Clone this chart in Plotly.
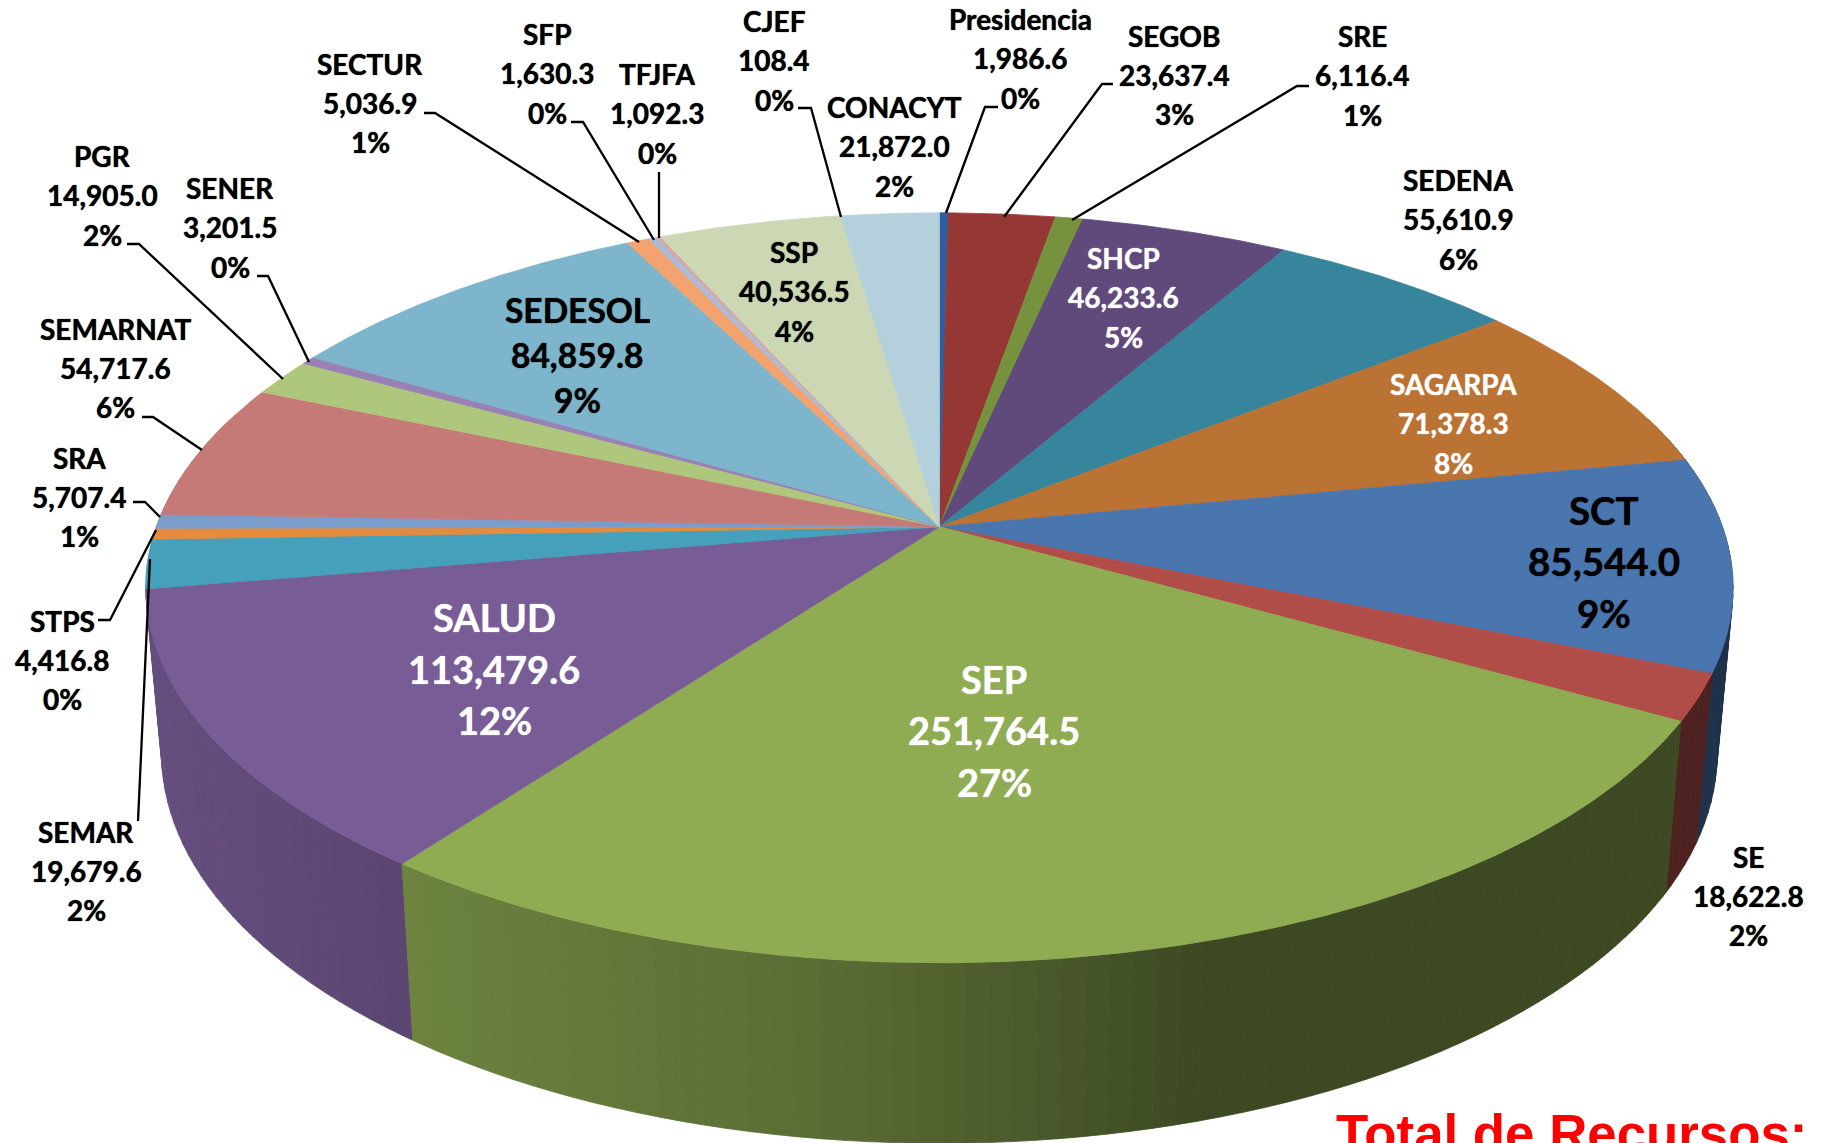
import numpy as np
import plotly.graph_objects as go

# ---- data, clockwise from 12 o'clock ----
names = ["Presidencia", "SEGOB", "SRE", "SHCP", "SEDENA", "SAGARPA", "SCT", "SE", "SEP", "SALUD",
         "SEMAR", "STPS", "SRA", "SEMARNAT", "PGR", "SENER", "SEDESOL", "SECTUR", "SFP", "TFJFA",
         "CJEF", "SSP", "CONACYT"]
values = [1986.6, 23637.4, 6116.4, 46233.6, 55610.9, 71378.3, 85544.0, 18622.8, 251764.5, 113479.6,
          19679.6, 4416.8, 5707.4, 54717.6, 14905.0, 3201.5, 84859.8, 5036.9, 1630.3, 1092.3,
          108.4, 40536.5, 21872.0]
colors = ["#2f5f9d", "#953735", "#76923c", "#604a7b", "#37859c", "#bb7333", "#4a76b0", "#b14d49",
          "#8fac53", "#775c95", "#45a0bb", "#e38b3f", "#7b9dcc", "#c67a78", "#aec77c", "#9980b5",
          "#7cb5cc", "#f2a36f", "#a9bcdb", "#d4a9a8", "#cddaa8", "#ccd8b4", "#b4d0dc"]
total_text = "Total de Recursos:"

# ---- label layout (pixel space): centre x, y of first line, line step, font size, colour ----
SMALL = 28.0
label_layout = {
    "Presidencia": (1020, 18.5, 39.5, SMALL, "black"), "SEGOB": (1174, 35.5, 39, SMALL, "black"),
    "SRE": (1362, 35.5, 39.5, SMALL, "black"), "SHCP": (1123, 257.5, 39.5, SMALL, "white"),
    "SEDENA": (1458, 179.5, 39.5, SMALL, "black"), "SAGARPA": (1453, 383.5, 39.5, SMALL, "white"),
    "SCT": (1604, 509.5, 51.5, 38.5, "black"), "SE": (1748, 856.5, 39, SMALL, "black"),
    "SEP": (994, 678.5, 51.5, 38, "white"), "SALUD": (494, 617, 51.5, 38, "white"),
    "SEMAR": (86, 831.5, 39, SMALL, "black"), "STPS": (62, 620.5, 39, SMALL, "black"),
    "SRA": (79, 457.5, 39, SMALL, "black"), "SEMARNAT": (115, 328.5, 39, SMALL, "black"),
    "PGR": (102, 155.5, 39.5, SMALL, "black"), "SENER": (230, 187.5, 39.5, SMALL, "black"),
    "SEDESOL": (577, 309.5, 45, 33.5, "black"), "SECTUR": (370, 63.5, 39, SMALL, "black"),
    "SFP": (547, 33.5, 39.5, SMALL, "black"), "TFJFA": (657, 73.5, 39.5, SMALL, "black"),
    "CJEF": (774, 20.5, 39.5, SMALL, "black"), "SSP": (794, 251.5, 39.5, SMALL, "black"),
    "CONACYT": (894, 106.5, 39.5, SMALL, "black"),
}
leaders = [
    [(424, 113), (435, 113), (639, 242)], [(571, 122), (583, 122), (654, 240)],
    [(659, 172), (659, 238)], [(127, 244), (139, 244), (283, 379)],
    [(257, 276), (268, 276), (309, 362)], [(142, 417), (153, 417), (202, 450)],
    [(133, 502), (145, 502), (160, 517)], [(98, 620), (110, 620), (156, 530)],
    [(138, 821), (150, 559)], [(798, 108), (811, 108), (841, 217)],
    [(998, 107), (985, 107), (946, 213)], [(1113, 84), (1102, 84), (1004, 217)],
    [(1309, 86), (1297, 86), (1072, 220)],
]

# ---- perspective disc ----
X0, Y0, A, B, K = 939.4, 526.7, 783.0, 365.0, 0.163


def top_xy(theta):
    u, v = np.sin(theta), np.cos(theta)
    d = 1 + K * v
    return X0 + A * u / d, Y0 - B * v / d


def bottom_xy(theta):
    x, y = top_xy(theta)
    return X0 + 0.98 * (x - X0), y + 172 + 0.04 * (y - 750)


def shade(hex_color, x):
    f = np.interp(x, [150, 415, 850, 1200, 1700], [0.85, 0.76, 0.62, 0.43, 0.43])
    rgb = [int(hex_color[i:i + 2], 16) for i in (1, 3, 5)]
    return "rgb(%d,%d,%d)" % tuple(int(c * f) for c in rgb)


vals = np.array(values)
total = vals.sum()
edges = np.concatenate([[0], np.cumsum(vals)]) / total * 2 * np.pi

fig = go.Figure()


def poly(xs, ys, color):
    fig.add_trace(go.Scatter(x=xs, y=ys, mode="lines", fill="toself", fillcolor=color,
                             line=dict(color=color, width=0.8), hoverinfo="skip", showlegend=False))


# side wall: vertical bands, back to front
strips = []
step = np.radians(1.5)
for i, col in enumerate(colors):
    a0, a1 = edges[i], edges[i + 1]
    grid = np.concatenate([[a0], np.arange(np.ceil(a0 / step), np.floor(a1 / step) + 1) * step, [a1]])
    for s0, s1 in zip(grid[:-1], grid[1:]):
        if s1 - s0 < 1e-9 or np.cos((s0 + s1) / 2) > 0.3:
            continue
        strips.append((s0, s1, col))
strips.sort(key=lambda s: -np.cos((s[0] + s[1]) / 2))
for s0, s1, col in strips:
    th = np.linspace(s0, s1, 4)
    tx, ty = top_xy(th)
    bx, by = bottom_xy(th[::-1])
    poly(list(tx) + list(bx) + [tx[0]], list(ty) + list(by) + [ty[0]], shade(col, tx.mean()))

# top face
for i, col in enumerate(colors):
    th = np.linspace(edges[i], edges[i + 1], max(3, int((edges[i + 1] - edges[i]) * 120)))
    x, y = top_xy(th)
    poly([X0] + list(x) + [X0], [Y0] + list(y) + [Y0], col)

# leader lines
for path in leaders:
    fig.add_trace(go.Scatter(x=[p[0] for p in path], y=[p[1] for p in path], mode="lines",
                             line=dict(color="black", width=2.3), hoverinfo="skip", showlegend=False))

# labels (one real text per line)
annotations = []
for name, v in zip(names, values):
    cx, cy, dy, size, col = label_layout[name]
    lines = [name, f"{v:,.1f}", f"{round(100 * v / total):d}%"]
    for j, text in enumerate(lines):
        annotations.append(dict(x=cx, y=cy + j * dy, text=text, showarrow=False, xanchor="center",
                                yanchor="middle",
                                font=dict(family="Lato", size=size, color=col, weight=700,
                                          shadow=f"0 0 1px {col}")))
annotations.append(dict(x=1334, y=1133, text=total_text, showarrow=False, xanchor="left", yanchor="middle",
                        font=dict(family="Liberation Sans", size=52.8, color="#ff0000", weight=700)))

fig.update_layout(
    width=1823, height=1143, margin=dict(l=0, r=0, t=0, b=0), autosize=False,
    paper_bgcolor="white", plot_bgcolor="white", showlegend=False, annotations=annotations,
    xaxis=dict(range=[0, 1823], visible=False, fixedrange=True),
    yaxis=dict(range=[1143, 0], visible=False, fixedrange=True),
)
fig.write_html("out.html", config=dict(displayModeBar=False),
               post_script="document.body.style.margin='0';document.body.style.overflow='hidden';")
